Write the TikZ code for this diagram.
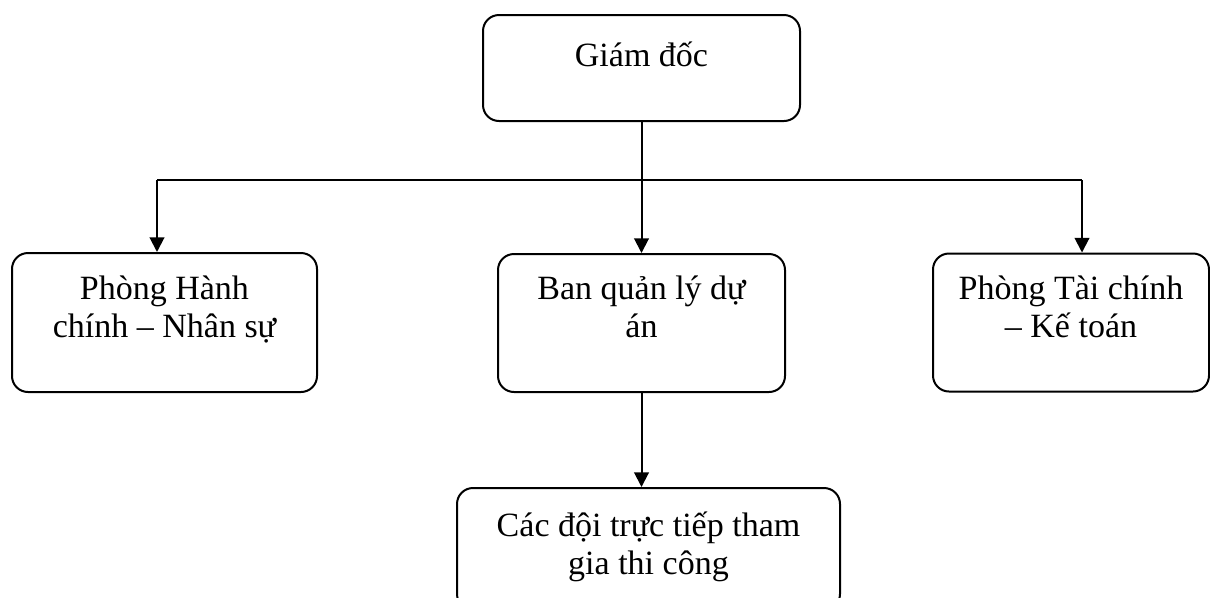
\documentclass[tikz,border=0pt]{standalone}
\usepackage{fontspec}
\setmainfont{Liberation Serif}
\usetikzlibrary{arrows.meta}

\begin{document}
\begin{tikzpicture}[x=0.75pt, y=-0.75pt,
    box/.style={draw, line width=1.5pt, rounded corners=12pt, align=center,
      inner sep=0pt, font=\fontsize{25.5}{28.5}\selectfont},
    link/.style={line width=1.5pt},
    arr/.style={link, -{Triangle[width=11pt, length=11pt]}}]
    \useasboundingbox (0, 0) rectangle (1210, 597);

    \node [box, minimum width=237.75pt, minimum height=79.5pt, text depth=21pt]
      (gd) at (641.5, 68) {Giám đốc};
    \node [box, minimum width=228.75pt, minimum height=104.25pt, text depth=24pt]
      (hc) at (164.5, 322.5) {Phòng Hành\\chính – Nhân sự};
    \node [box, minimum width=215.25pt, minimum height=103.5pt, text depth=24pt]
      (ql) at (641.5, 323) {Ban quản lý dự\\án};
    \node [box, minimum width=207pt, minimum height=103.5pt, text depth=24pt]
      (tc) at (1071, 322.5) {Phòng Tài chính\\– Kế toán};
    \node [box, minimum width=287.25pt, minimum height=91.5pt, text depth=8pt]
      (cd) at (648.5, 549) {Các đội trực tiếp tham\\gia thi công};

    \coordinate (busl) at (157, 180);
    \coordinate (busr) at (1082, 180);

    \draw [link] (gd.south) -- (gd.south |- busl);
    \draw [link] (busl) -- (busr);
    \draw [arr] (busl) -- (busl |- hc.north);
    \draw [arr] (gd.south |- busl) -- (ql.north);
    \draw [arr] (busr) -- (busr |- tc.north);
    \draw [arr] (ql.south) -- (ql.south |- cd.north);
  \end{tikzpicture}
\end{document}
